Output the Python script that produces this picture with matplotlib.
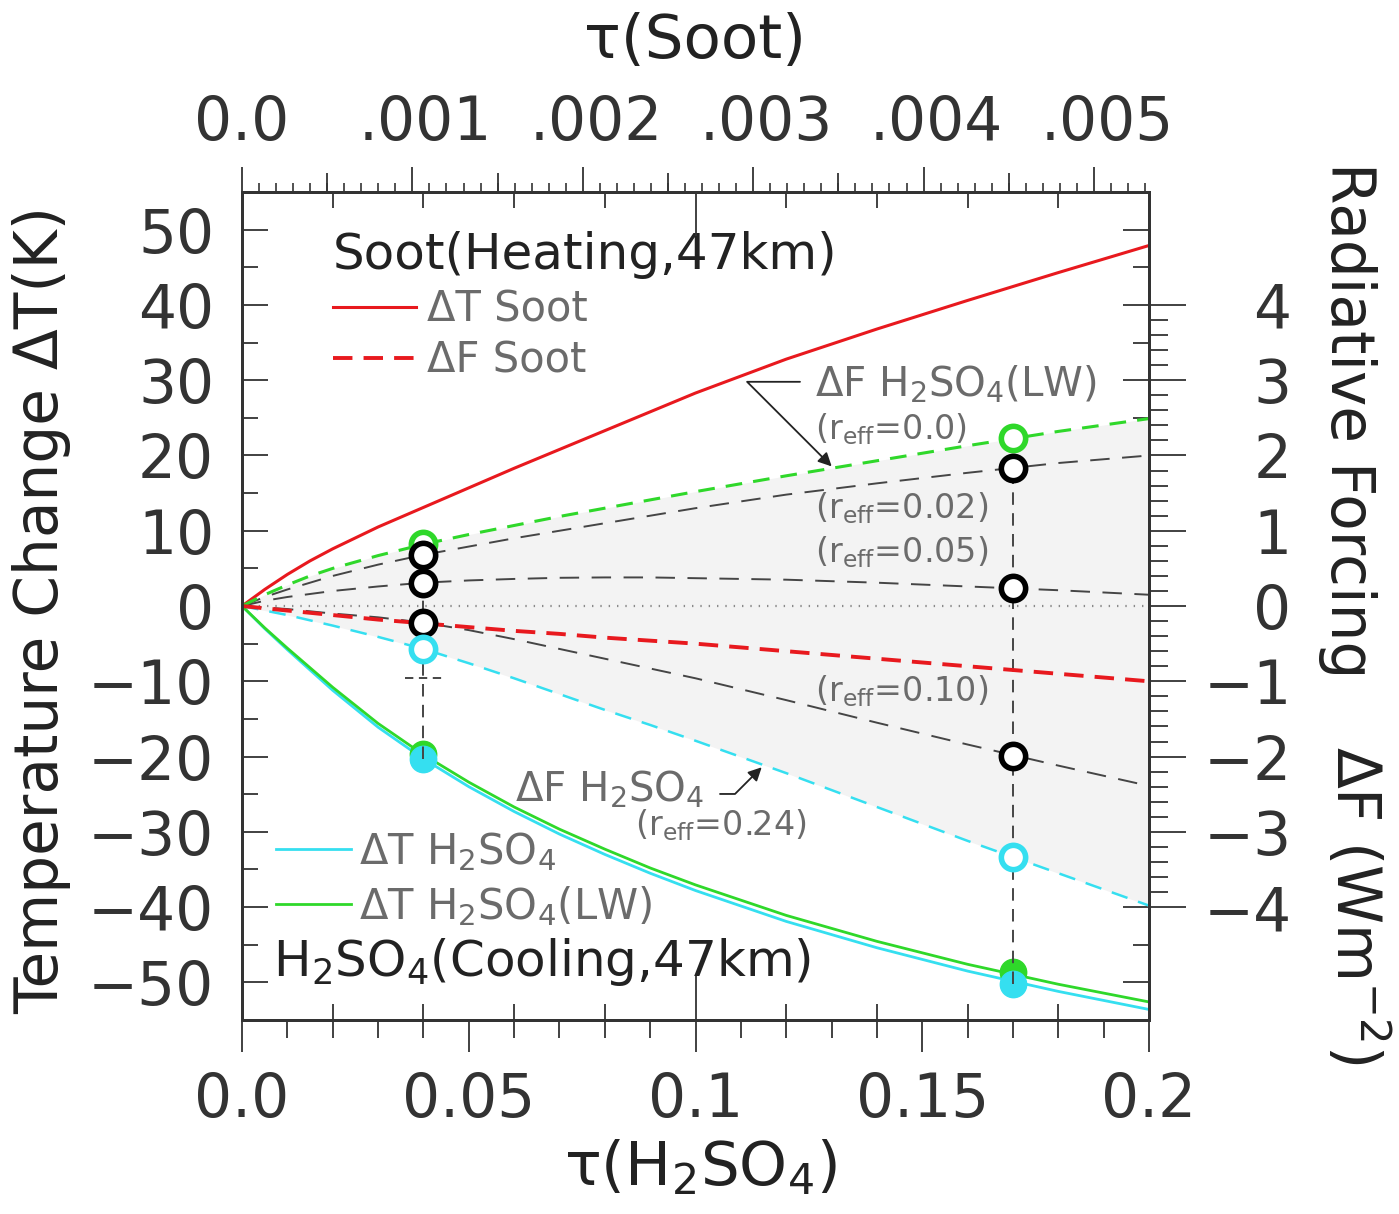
import numpy as np
import matplotlib
matplotlib.use('Agg')
import matplotlib.pyplot as plt
import matplotlib.transforms as mtransforms
from matplotlib.ticker import FixedLocator, MultipleLocator, FixedFormatter

plt.rcParams['font.family'] = ['DejaVu Sans']
plt.rcParams['mathtext.fontset'] = 'dejavusans'
plt.rcParams['mathtext.default'] = 'regular'
plt.rcParams['lines.scale_dashes'] = False

# optical depth of H2SO4 (bottom axis)
tau = [0, 0.005, 0.01, 0.015, 0.02, 0.03, 0.04, 0.05, 0.06, 0.07, 0.08, 0.09, 0.10,
       0.12, 0.14, 0.16, 0.18, 0.20]

# temperature change (K), left axis
dT_soot = [0, 2.2, 4.2, 6.0, 7.6, 10.5, 13.1, 15.7, 18.3, 20.8, 23.3, 25.8, 28.3,
           32.8, 36.8, 40.6, 44.3, 47.9]
dT_h2so4 = [0, -3.0, -5.8, -8.5, -11.2, -16.1, -20.3, -24.0, -27.3, -30.3, -33.0, -35.5, -37.8,
            -41.9, -45.4, -48.5, -51.2, -53.6]
dT_h2so4_lw = [0, -2.9, -5.6, -8.2, -10.8, -15.6, -19.75, -23.4, -26.7, -29.65, -32.3, -34.8, -37.05,
               -41.1, -44.55, -47.6, -50.25, -52.6]

# radiative forcing (W m-2), right axis
dF_soot = [0, -0.03, -0.06, -0.09, -0.12, -0.18, -0.23, -0.28, -0.33, -0.37, -0.42, -0.46, -0.50,
           -0.60, -0.70, -0.80, -0.90, -1.0]
dF_r000 = [0, 0.15, 0.28, 0.40, 0.50, 0.67, 0.82, 0.95, 1.07, 1.19, 1.30, 1.41, 1.52,
           1.73, 1.93, 2.13, 2.32, 2.49]
dF_r002 = [0, 0.12, 0.22, 0.31, 0.40, 0.55, 0.68, 0.79, 0.90, 1.00, 1.10, 1.20, 1.30,
           1.48, 1.63, 1.77, 1.90, 2.00]
dF_r005 = [0, 0.07, 0.12, 0.16, 0.20, 0.26, 0.31, 0.34, 0.36, 0.375, 0.38, 0.38, 0.37,
           0.35, 0.31, 0.26, 0.21, 0.15]
dF_r010 = [0, -0.02, -0.04, -0.07, -0.10, -0.15, -0.22, -0.32, -0.44, -0.57, -0.70, -0.83, -0.96,
           -1.25, -1.55, -1.84, -2.12, -2.39]
dF_r024 = [0, -0.06, -0.12, -0.19, -0.26, -0.41, -0.57, -0.76, -0.96, -1.17, -1.38, -1.58, -1.79,
           -2.22, -2.67, -3.12, -3.55, -3.98]

# highlighted cases
tau_mark = [0.04, 0.17]
dF_mark_r000 = [0.82, 2.23]
dF_mark_r002 = [0.68, 1.84]
dF_mark_r005 = [0.31, 0.24]
dF_mark_r010 = [-0.22, -1.99]
dF_mark_r024 = [-0.57, -3.34]
dT_mark_lw = [-19.7, -48.6]
dT_mark_h2so4 = [-20.3, -50.2]

# ticks
xticks = [0, 0.05, 0.1, 0.15, 0.2]
xticklabels = ['0.0', '0.05', '0.1', '0.15', '0.2']
yticks = [50, 40, 30, 20, 10, 0, -10, -20, -30, -40, -50]
yticklabels = ['50', '40', '30', '20', '10', '0', '\u221210', '\u221220', '\u221230', '\u221240', '\u221250']
fticks = [4, 3, 2, 1, 0, -1, -2, -3, -4]
fticklabels = ['4', '3', '2', '1', '0', '\u22121', '\u22122', '\u22123', '\u22124']
soot_ticks = [0, 0.001, 0.002, 0.003, 0.004, 0.005]
soot_ticklabels = ['0.0', '.001', '.002', '.003', '.004', '.005']

RED = '#e8191e'
GREEN = '#2fd82a'
CYAN = '#35dff0'
TXT = '#6b6b6b'
DK = '#454545'
AX = '#333333'
BLK = '#222222'

fig = plt.figure(figsize=(13.99, 12.14), dpi=100)
ax = fig.add_axes([0.173, 0.1598, 0.6483, 0.682])
ax.set_xlim(0, 0.2)
ax.set_ylim(-55, 55)
axr = ax.twinx()
axr.set_ylim(-5.5, 5.5)
axt = ax.twiny()
axt.set_xlim(0, 0.005323)
axt2 = ax.twiny()
axt2.set_xlim(0, 0.005323)
axi = ax.twiny()
axi.set_xlim(0, 0.2)

# forcing curves (right axis)
axr.fill_between(tau, dF_r024, dF_r000, color='#f3f3f3', lw=0, zorder=1)
axr.axhline(0, color='#8a8a8a', lw=1.6, ls=(0, (1, 5)), zorder=1.5)
axr.plot(tau, dF_r002, color=DK, lw=1.4, dashes=(14, 9), zorder=2)
axr.plot(tau, dF_r005, color=DK, lw=1.4, dashes=(14, 9), zorder=2)
axr.plot(tau, dF_r010, color=DK, lw=1.4, dashes=(14, 9), zorder=2)
l_fs, = axr.plot(tau, dF_soot, color=RED, lw=2.8, dashes=(14, 8), zorder=2.2, label='\u0394F Soot')
axr.plot(tau, dF_r000, color=GREEN, lw=2.2, dashes=(12, 8), zorder=2.1)
axr.plot(tau, dF_r024, color=CYAN, lw=1.8, dashes=(12, 8), zorder=2.1)

# vertical connectors between the marked cases
axr.vlines(tau_mark[0], dT_mark_h2so4[0] / 10, dF_mark_r002[0], color=DK, lw=1.4,
           linestyles=(0, (9, 6)), zorder=1.8)
axr.vlines(tau_mark[1], dT_mark_h2so4[1] / 10, dF_mark_r002[1], color=DK, lw=1.4,
           linestyles=(0, (9, 6)), zorder=1.8)
axr.plot([tau_mark[0] - 0.004, tau_mark[0] + 0.004], [-0.95, -0.95], color=DK, lw=1.4,
         dashes=(6, 4), zorder=1.8)

ms, mw = 17.5, 4
axr.plot(tau_mark, dF_mark_r000, 'o', ms=ms, mfc='white', mec=GREEN, mew=mw, zorder=4)
axr.plot(tau_mark, dF_mark_r002, 'o', ms=ms, mfc='white', mec='black', mew=mw, zorder=4)
axr.plot(tau_mark, dF_mark_r005, 'o', ms=ms, mfc='white', mec='black', mew=mw, zorder=4)
axr.plot(tau_mark, dF_mark_r010, 'o', ms=ms, mfc='white', mec='black', mew=mw, zorder=4)
axr.plot(tau_mark, dF_mark_r024, 'o', ms=ms, mfc='white', mec=CYAN, mew=mw, zorder=4)

# temperature curves (left axis)
l_ts, = ax.plot(tau, dT_soot, color=RED, lw=2.2, label='\u0394T Soot')
l_th, = ax.plot(tau, dT_h2so4, color=CYAN, lw=2.0, label='\u0394T H$_2$SO$_4$')
l_tl, = ax.plot(tau, dT_h2so4_lw, color=GREEN, lw=2.0, label='\u0394T H$_2$SO$_4$(LW)')
ax.plot(tau_mark, dT_mark_lw, 'o', ms=19, color=GREEN, zorder=4)
ax.plot(tau_mark, dT_mark_h2so4, 'o', ms=19, color=CYAN, zorder=4)

# legends
leg1 = axr.legend(handles=[l_ts, l_fs], loc='upper left', bbox_to_anchor=(333 / 1399, 1 - 231 / 1214),
                  bbox_transform=fig.transFigure, frameon=False, fontsize=30, labelcolor=TXT,
                  title='Soot(Heating,47km)', title_fontsize=36, alignment='left',
                  handlelength=2.0, handletextpad=0.25, labelspacing=0.22, borderpad=0, borderaxespad=0)
leg1.get_title().set_color(BLK)
axr.add_artist(leg1)
leg2 = axr.legend(handles=[l_th, l_tl], loc='upper left', bbox_to_anchor=(276 / 1399, 1 - 830 / 1214),
                  bbox_transform=fig.transFigure, frameon=False, fontsize=30, labelcolor=TXT,
                  handlelength=1.8, handletextpad=0.2, labelspacing=0.27, borderpad=0, borderaxespad=0)
ax.text(0.0069, -49.1, 'H$_2$SO$_4$(Cooling,47km)', fontsize=36, color=BLK, va='baseline', zorder=5)

# annotations
axr.text(0.1264, 2.78, '\u0394F H$_2$SO$_4$(LW)', fontsize=29, color=TXT, va='baseline')
axr.text(0.1264, 2.22, '(r$_{eff}$=0.0)', fontsize=24, color=TXT, va='baseline')
axr.text(0.1264, 1.16, '(r$_{eff}$=0.02)', fontsize=24, color=TXT, va='baseline')
axr.text(0.1264, 0.58, '(r$_{eff}$=0.05)', fontsize=24, color=TXT, va='baseline')
axr.text(0.1264, -1.26, '(r$_{eff}$=0.10)', fontsize=24, color=TXT, va='baseline')
axr.text(0.0601, -2.59, '\u0394F H$_2$SO$_4$', fontsize=29, color=TXT, va='baseline')
axr.text(0.0867, -3.05, '(r$_{eff}$=0.24)', fontsize=24, color=TXT, va='baseline')
axr.annotate('', xy=(0.13003, 1.855), xytext=(0.12304, 2.979),
             arrowprops=dict(arrowstyle='-|>', color=BLK, lw=1.3, mutation_scale=20,
                             shrinkA=0, shrinkB=0, connectionstyle='angle,angleA=0,angleB=135,rad=0'))
axr.annotate('', xy=(0.1146, -2.142), xytext=(0.1054, -2.497),
             arrowprops=dict(arrowstyle='-|>', color=BLK, lw=1.3, mutation_scale=20,
                             shrinkA=0, shrinkB=0, connectionstyle='angle,angleA=0,angleB=45,rad=0'))

# ticks: bottom (outward) and left / right (inward) on main axes
ax.xaxis.set_major_locator(FixedLocator(xticks))
ax.xaxis.set_major_formatter(FixedFormatter(xticklabels))
ax.xaxis.set_minor_locator(MultipleLocator(0.01))
ax.yaxis.set_major_locator(FixedLocator(yticks))
ax.yaxis.set_major_formatter(FixedFormatter(yticklabels))
ax.yaxis.set_minor_locator(MultipleLocator(5))
ax.tick_params(axis='x', which='major', direction='out', length=23, width=1.3, pad=14,
               labelsize=43, colors=AX, bottom=True, top=False)
ax.tick_params(axis='x', which='minor', direction='out', length=13, width=1.3, colors=AX,
               bottom=True, top=False)
ax.tick_params(axis='y', which='major', direction='in', length=18.7, width=1.3, pad=20,
               labelsize=43, colors=AX, left=True, right=True, labelright=False)
ax.tick_params(axis='y', which='minor', direction='in', length=11.5, width=1.3, colors=AX,
               left=True, right=True)

# right axis (forcing)
axr.yaxis.set_major_locator(FixedLocator(fticks))
axr.yaxis.set_major_formatter(FixedFormatter(fticklabels))
axr.yaxis.set_minor_locator(FixedLocator(np.arange(-4, 4.01, 0.2)))
axr.tick_params(axis='y', which='major', direction='out', length=26.6, width=1.3, pad=76,
                labelsize=43, colors=AX)
axr.tick_params(axis='y', which='minor', direction='out', length=13.7, width=1.3, colors=AX)
for lab in axr.get_yticklabels():
    lab.set_horizontalalignment('right')

# top axis (soot optical depth)
axt.xaxis.set_major_locator(FixedLocator(soot_ticks))
axt.xaxis.set_major_formatter(FixedFormatter(soot_ticklabels))
axt.xaxis.set_minor_locator(MultipleLocator(0.0001))
axt.tick_params(axis='x', which='major', direction='out', length=18, width=1.3, pad=10,
                labelsize=43, colors=AX, top=True, bottom=False, labeltop=True, labelbottom=False)
axt.tick_params(axis='x', which='minor', direction='out', length=6.5, width=1.2, colors=AX,
                top=True, bottom=False)
shift = mtransforms.ScaledTranslation(0.13, 0, fig.dpi_scale_trans)
for lab in axt.get_xticklabels()[1:]:
    lab.set_transform(lab.get_transform() + shift)
axt2.xaxis.set_major_locator(MultipleLocator(0.001, offset=0.0005))
axt2.xaxis.set_minor_locator(FixedLocator([]))
axt2.tick_params(axis='x', which='major', direction='out', length=13.7, width=1.3, colors=AX,
                 top=True, bottom=False, labeltop=False, labelbottom=False)

# inward ticks on top and bottom
axi.xaxis.set_major_locator(FixedLocator([0, 0.1, 0.2]))
axi.xaxis.set_minor_locator(MultipleLocator(0.02))
axi.tick_params(axis='x', which='major', direction='in', length=32, width=1.3, colors=AX,
                top=True, bottom=True, labeltop=False, labelbottom=False)
axi.tick_params(axis='x', which='minor', direction='in', length=11.5, width=1.3, colors=AX,
                top=True, bottom=True)

for a in (ax, axr, axt, axt2, axi):
    for s in a.spines.values():
        s.set_linewidth(1.8)
        s.set_color(AX)

# axis titles
fig.text(695 / 1399, 1 - 42 / 1214, '\u03c4(Soot)', fontsize=44, color=BLK, ha='center', va='center')
fig.text(700 / 1399, 1 - 1185 / 1214, '\u03c4(H$_2$SO$_4$)', fontsize=44, color=BLK,
         ha='center', va='baseline')
fig.text(42 / 1399, 1 - 610 / 1214, 'Temperature Change \u0394T(K)', fontsize=43, color=BLK,
         rotation=90, ha='center', va='center')
fig.text(1347 / 1399, 1 - 420 / 1214, 'Radiative Forcing', fontsize=43, color=BLK,
         rotation=-90, ha='center', va='center')
fig.text(1356 / 1399, 1 - 905 / 1214, '\u0394F (Wm$^{-2}$)', fontsize=43, color=BLK,
         rotation=-90, ha='center', va='center')

fig.savefig('out.png', dpi=100)
